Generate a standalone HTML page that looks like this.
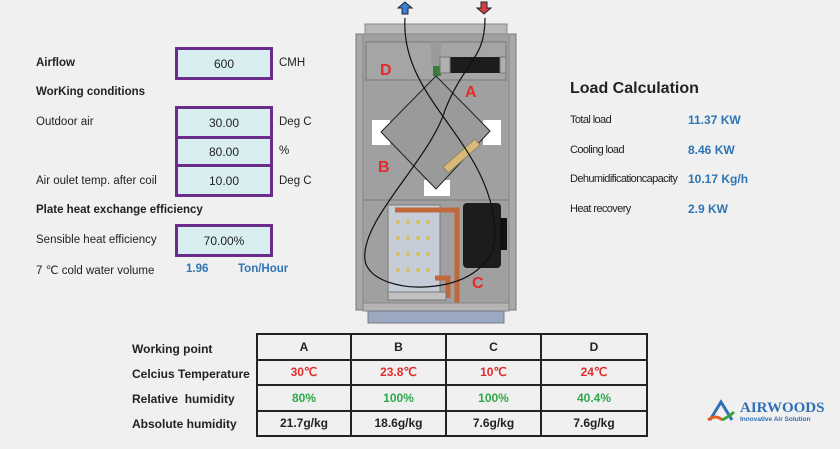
<!DOCTYPE html>
<html><head><meta charset="utf-8"><style>
body{margin:0;width:840px;height:449px;background:#f0f0f0;position:relative;overflow:hidden;font-family:"Liberation Sans",sans-serif;color:#222}
.a{position:absolute;white-space:nowrap}
.b{font-weight:bold}
.box{position:absolute;background:#d8eef0;border:3px solid #6b2d8c;box-sizing:border-box;text-align:center;font-size:12px;display:flex;align-items:center;justify-content:center}
.l{font-size:11.5px}
.blue{color:#2e75b6;font-weight:bold}
table{position:absolute;left:256px;top:333px;width:390px;border-collapse:collapse;font-size:12px;font-weight:bold;table-layout:fixed}
td{border:2px solid #222;height:23.5px;text-align:center;padding:0}
.r{color:#e02b2b}.g{color:#2ea84a}
.lc{font-size:11px;letter-spacing:-0.6px}
</style></head><body>
<div class="a b l" style="left:36px;top:57px">Airflow</div>
<div class="box" style="left:175px;top:47px;width:98px;height:33px">600</div>
<div class="a l" style="left:279px;top:57px">CMH</div>
<div class="a b l" style="left:36px;top:86px">WorKing conditions</div>
<div class="a l" style="left:36px;top:116px">Outdoor air</div>
<div class="box" style="left:175px;top:106px;width:98px;height:33px">30.00</div>
<div class="box" style="left:175px;top:136px;width:98px;height:31px">80.00</div>
<div class="box" style="left:175px;top:164px;width:98px;height:33px">10.00</div>
<div class="a l" style="left:279px;top:116px">Deg C</div>
<div class="a l" style="left:279px;top:145px">%</div>
<div class="a l" style="left:36px;top:175px">Air oulet temp. after coil</div>
<div class="a l" style="left:279px;top:175px">Deg C</div>
<div class="a b l" style="left:36px;top:204px">Plate heat exchange efficiency</div>
<div class="a l" style="left:36px;top:234px">Sensible heat efficiency</div>
<div class="box" style="left:175px;top:224px;width:98px;height:33px">70.00%</div>
<div class="a l" style="left:36px;top:263px">7 ℃ cold water volume</div>
<div class="a blue l" style="left:186px;top:263px">1.96</div>
<div class="a blue l" style="left:238px;top:263px">Ton/Hour</div>

<svg class="a" style="left:350px;top:0" width="180" height="330" viewBox="0 0 180 330">
<path d="M55 2 l-7 6 h4 v6 h6 v-6 h4z" fill="#3a7fd0" stroke="#223" stroke-width="1"/>
<path d="M131 2 h6 v6 h4 l-7 6 -7 -6 h4z" fill="#d04040" stroke="#223" stroke-width="1"/>
<rect x="15" y="24" width="142" height="10" fill="#b8b8b8" stroke="#888"/>
<rect x="6" y="34" width="160" height="276" fill="#a8a8a8" stroke="#777"/>
<rect x="13" y="34" width="146" height="272" fill="#a0a0a0" stroke="#888"/>
<rect x="16" y="42" width="140" height="38" fill="#a5a5a5" stroke="#777"/>
<rect x="81" y="42" width="10" height="24" fill="#9a9a9a"/>
<rect x="83" y="66" width="8" height="10" fill="#3a7a3a"/>
<rect x="100" y="57" width="50" height="16" fill="#1c1c1c"/>
<rect x="90" y="57" width="10" height="16" fill="#b0b0b0" stroke="#777"/>
<rect x="150" y="57" width="6" height="16" fill="#b0b0b0" stroke="#777"/>
<rect x="22" y="120" width="18" height="25" fill="#fff"/><rect x="133" y="120" width="18" height="25" fill="#fff"/>
<rect x="74" y="180" width="26" height="16" fill="#fff"/>
<path d="M86 76 L140 131 86 189 31 132Z" fill="#9a9a9a" stroke="#222" stroke-width="1"/>
<path d="M93 167 l32 -28 5 6 -32 28z" fill="#d9b97a" stroke="#886"/>
<line x1="13" y1="200" x2="159" y2="200" stroke="#777"/>
<rect x="38" y="205" width="52" height="87" fill="#c6ccd8" stroke="#777"/>
<g fill="#d4c060">
<circle cx="48" cy="222" r="2"/><circle cx="58" cy="222" r="2"/><circle cx="68" cy="222" r="2"/><circle cx="78" cy="222" r="2"/>
<circle cx="48" cy="238" r="2"/><circle cx="58" cy="238" r="2"/><circle cx="68" cy="238" r="2"/><circle cx="78" cy="238" r="2"/>
<circle cx="48" cy="254" r="2"/><circle cx="58" cy="254" r="2"/><circle cx="68" cy="254" r="2"/><circle cx="78" cy="254" r="2"/>
<circle cx="48" cy="270" r="2"/><circle cx="58" cy="270" r="2"/><circle cx="68" cy="270" r="2"/><circle cx="78" cy="270" r="2"/></g>
<path d="M45 210 H107 V310 M85 278 h13 v20" fill="none" stroke="#c0683a" stroke-width="5"/>
<rect x="38" y="292" width="58" height="8" fill="#c0c0c0" stroke="#777"/>
<rect x="113" y="203" width="38" height="65" rx="4" fill="#1c1c1c"/>
<rect x="150" y="218" width="7" height="32" fill="#111"/>
<rect x="13" y="303" width="146" height="8" fill="#b5b5b5" stroke="#888"/>
<rect x="18" y="311" width="136" height="12" fill="#9aa8c0" stroke="#778"/>
<path d="M55 18 C50 100 140 140 145 230 C150 300 20 300 15 260 C10 220 80 160 95 110 C115 60 135 60 135 18" fill="none" stroke="#111" stroke-width="1.2"/>
<g fill="#e32b2b" font-weight="bold" font-size="16" font-family="Liberation Sans,sans-serif">
<text x="30" y="75">D</text><text x="115" y="97">A</text><text x="28" y="172">B</text><text x="122" y="288">C</text></g>
</svg>

<div class="a b" style="left:570px;top:80px;font-size:16px">Load Calculation</div>
<div class="a lc" style="left:570px;top:114px">Total load</div>
<div class="a blue" style="left:688px;top:113px;font-size:12px">11.37 KW</div>
<div class="a lc" style="left:570px;top:144px">Cooling load</div>
<div class="a blue" style="left:688px;top:143px;font-size:12px">8.46 KW</div>
<div class="a lc" style="left:570px;top:173px">Dehumidificationcapacity</div>
<div class="a blue" style="left:688px;top:172px;font-size:12px">10.17 Kg/h</div>
<div class="a lc" style="left:570px;top:203px">Heat recovery</div>
<div class="a blue" style="left:688px;top:202px;font-size:12px">2.9 KW</div>

<div class="a b" style="left:132px;top:342px;font-size:12px">Working point</div>
<div class="a b" style="left:132px;top:367px;font-size:12px">Celcius Temperature</div>
<div class="a b" style="left:132px;top:392px;font-size:12px">Relative&nbsp; humidity</div>
<div class="a b" style="left:132px;top:417px;font-size:12px">Absolute humidity</div>
<table>
<colgroup><col style="width:94px"><col style="width:95px"><col style="width:95px"><col style="width:106px"></colgroup>
<tr><td>A</td><td>B</td><td>C</td><td>D</td></tr>
<tr><td class="r">30℃</td><td class="r">23.8℃</td><td class="r">10℃</td><td class="r">24℃</td></tr>
<tr><td class="g">80%</td><td class="g">100%</td><td class="g">100%</td><td class="g">40.4%</td></tr>
<tr><td>21.7g/kg</td><td>18.6g/kg</td><td>7.6g/kg</td><td>7.6g/kg</td></tr>
</table>

<svg class="a" style="left:706px;top:398px" width="32" height="26"><path d="M4 22 L15 4 L26 22" fill="none" stroke="#2e6fb5" stroke-width="3"/><path d="M2 22 Q10 16 16 22" fill="none" stroke="#e85a20" stroke-width="3"/><path d="M16 22 Q24 18 28 14" fill="none" stroke="#3aa040" stroke-width="3"/></svg>
<div class="a" style="left:740px;top:400px;color:#2e6fb5;font-weight:bold;font-family:'Liberation Serif',serif;font-size:15px">AIRWOODS</div>
<div class="a" style="left:740px;top:416px;color:#2e6fb5;font-weight:bold;font-size:6.5px">Innovative Air Solution</div>
</body></html>
